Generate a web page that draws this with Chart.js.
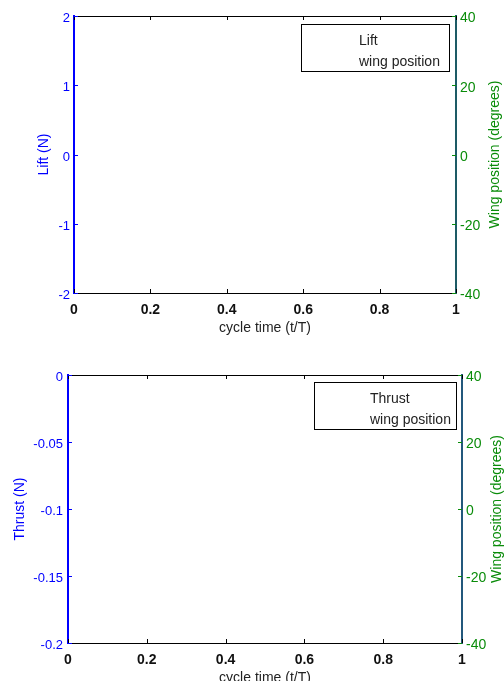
<!DOCTYPE html>
<html>
<head>
<meta charset="utf-8">
<script src="https://cdn.jsdelivr.net/npm/chart.js@4/dist/chart.umd.min.js"></script>
<style>
  html, body { margin: 0; padding: 0; background: #fff; }
  #wrap { position: relative; width: 504px; height: 681px; overflow: hidden; }
  canvas { position: absolute; left: 0; }
</style>
</head>
<body>
<div id="wrap">
  <canvas id="liftChart" width="504" height="340" style="top:0"></canvas>
  <canvas id="thrustChart" width="504" height="341" style="top:340px"></canvas>
</div>
<script>
// data (the figure has no plotted curves, only the empty axes)
const timeTicks = [0, 0.2, 0.4, 0.6, 0.8, 1];
const liftTicks = [-2, -1, 0, 1, 2];
const thrustTicks = [-0.2, -0.15, -0.1, -0.05, 0];
const angleTicks = [-40, -20, 0, 20, 40];
const liftValues = [];
const thrustValues = [];
const wingPosition = [];

const BLUE = '#0000ff';
const GREEN = '#0a8c0a';
const FONT = 'Liberation Sans, Arial, Helvetica, sans-serif';

// inward tick marks, top box line, axis titles, matlab style legend
const framePlugin = {
    id: 'frame',
    afterDraw(chart, args, o) {
        const { ctx, chartArea: a, scales } = chart;
        ctx.save();
        ctx.lineWidth = 1;

        ctx.strokeStyle = '#000';
        ctx.beginPath();
        ctx.moveTo(a.left, a.top + 0.5);
        ctx.lineTo(a.right, a.top + 0.5);
        scales.x.ticks.forEach(t => {
            const px = Math.round(scales.x.getPixelForValue(t.value)) + 0.5;
            ctx.moveTo(px, a.top);
            ctx.lineTo(px, a.top + 4);
            ctx.moveTo(px, a.bottom);
            ctx.lineTo(px, a.bottom - 4);
        });
        ctx.stroke();

        ctx.strokeStyle = BLUE;
        ctx.beginPath();
        scales.y.ticks.forEach(t => {
            const py = Math.round(scales.y.getPixelForValue(t.value)) + 0.5;
            ctx.moveTo(a.left, py);
            ctx.lineTo(a.left + 4, py);
        });
        ctx.stroke();

        ctx.strokeStyle = GREEN;
        ctx.beginPath();
        scales.y2.ticks.forEach(t => {
            const py = Math.round(scales.y2.getPixelForValue(t.value)) + 0.5;
            ctx.moveTo(a.right, py);
            ctx.lineTo(a.right - 4, py);
        });
        ctx.stroke();

        // axis titles
        const midY = (a.top + a.bottom) / 2;
        ctx.font = '14px ' + FONT;
        ctx.textAlign = 'center';
        ctx.textBaseline = 'middle';
        ctx.fillStyle = BLUE;
        ctx.save();
        ctx.translate(o.leftTitleX, midY);
        ctx.rotate(-Math.PI / 2);
        ctx.fillText(o.leftTitle, 0, 0);
        ctx.restore();
        ctx.fillStyle = GREEN;
        ctx.save();
        ctx.translate(o.rightTitleX, midY);
        ctx.rotate(-Math.PI / 2);
        ctx.fillText(o.rightTitle, 0, 0);
        ctx.restore();
        ctx.fillStyle = '#222';
        ctx.fillText('cycle time (t/T)', (a.left + a.right) / 2, a.bottom + 35);

        // legend
        const bx = a.right - o.legendInsetX - o.legendWidth;
        const by = a.top + o.legendInsetY;
        ctx.fillStyle = '#fff';
        ctx.fillRect(bx, by, o.legendWidth, 47);
        ctx.strokeStyle = '#000';
        ctx.strokeRect(Math.round(bx) + 0.5, Math.round(by) + 0.5, o.legendWidth, 47);
        ctx.fillStyle = '#222';
        ctx.textAlign = 'left';
        chart.data.datasets.forEach((ds, i) => {
            ctx.fillText(ds.label, bx + o.legendTextX, by + 17.5 + i * 20.5);
        });
        ctx.restore();
    }
};

function makeChart(id, yTicks, yValues, label, opts) {
    return new Chart(document.getElementById(id), {
        type: 'line',
        data: {
            datasets: [
                { label: label, data: yValues, yAxisID: 'y', borderColor: BLUE },
                { label: 'wing position', data: wingPosition, yAxisID: 'y2', borderColor: GREEN }
            ]
        },
        options: {
            responsive: false,
            animation: false,
            layout: { padding: { top: opts.top, left: 0, right: 0, bottom: 0 } },
            plugins: {
                legend: { display: false },
                tooltip: { enabled: false },
                frame: opts.frame
            },
            scales: {
                x: {
                    type: 'linear',
                    min: 0,
                    max: 1,
                    afterBuildTicks: s => { s.ticks = timeTicks.map(v => ({ value: v })); },
                    afterFit: s => { s.height = opts.xHeight; },
                    grid: { drawOnChartArea: false, drawTicks: false },
                    border: { color: '#000', width: 1 },
                    ticks: {
                        padding: 9,
                        color: '#111',
                        font: { family: FONT, size: 14, weight: 'bold' },
                        callback: v => String(v)
                    }
                },
                y: {
                    position: 'left',
                    min: yTicks[0],
                    max: yTicks[yTicks.length - 1],
                    afterBuildTicks: s => { s.ticks = yTicks.map(v => ({ value: v })); },
                    afterFit: s => { s.width = opts.leftWidth; },
                    grid: { drawOnChartArea: false, drawTicks: false },
                    border: { color: BLUE, width: 2 },
                    ticks: {
                        padding: opts.leftPad,
                        labelOffset: 2.5,
                        color: BLUE,
                        font: { family: FONT, size: 13 },
                        callback: v => String(v)
                    }
                },
                y2: {
                    position: 'right',
                    min: angleTicks[0],
                    max: angleTicks[angleTicks.length - 1],
                    afterBuildTicks: s => { s.ticks = angleTicks.map(v => ({ value: v })); },
                    afterFit: s => { s.width = opts.rightWidth; },
                    grid: { drawOnChartArea: false, drawTicks: false },
                    border: { color: opts.rightColor, width: 2 },
                    ticks: {
                        padding: 4,
                        labelOffset: 2.5,
                        color: GREEN,
                        font: { family: FONT, size: 14 },
                        callback: v => String(v)
                    }
                }
            }
        },
        plugins: [framePlugin]
    });
}

const liftChart = makeChart('liftChart', liftTicks, liftValues, 'Lift', {
    top: 16, xHeight: 47, leftWidth: 74, rightWidth: 48, leftPad: 4, rightColor: '#1d5b66',
    frame: {
        leftTitle: 'Lift (N)', leftTitleX: 44,
        rightTitle: 'Wing position (degrees)', rightTitleX: 495,
        legendWidth: 148, legendInsetX: 7, legendInsetY: 8, legendTextX: 58
    }
});

const thrustChart = makeChart('thrustChart', thrustTicks, thrustValues, 'Thrust', {
    top: 35, xHeight: 38, leftWidth: 68, rightWidth: 42, leftPad: 5, rightColor: '#23587c',
    frame: {
        leftTitle: 'Thrust (N)', leftTitleX: 20,
        rightTitle: 'Wing position (degrees)', rightTitleX: 497,
        legendWidth: 142, legendInsetX: 6, legendInsetY: 7, legendTextX: 56
    }
});
</script>
</body>
</html>
